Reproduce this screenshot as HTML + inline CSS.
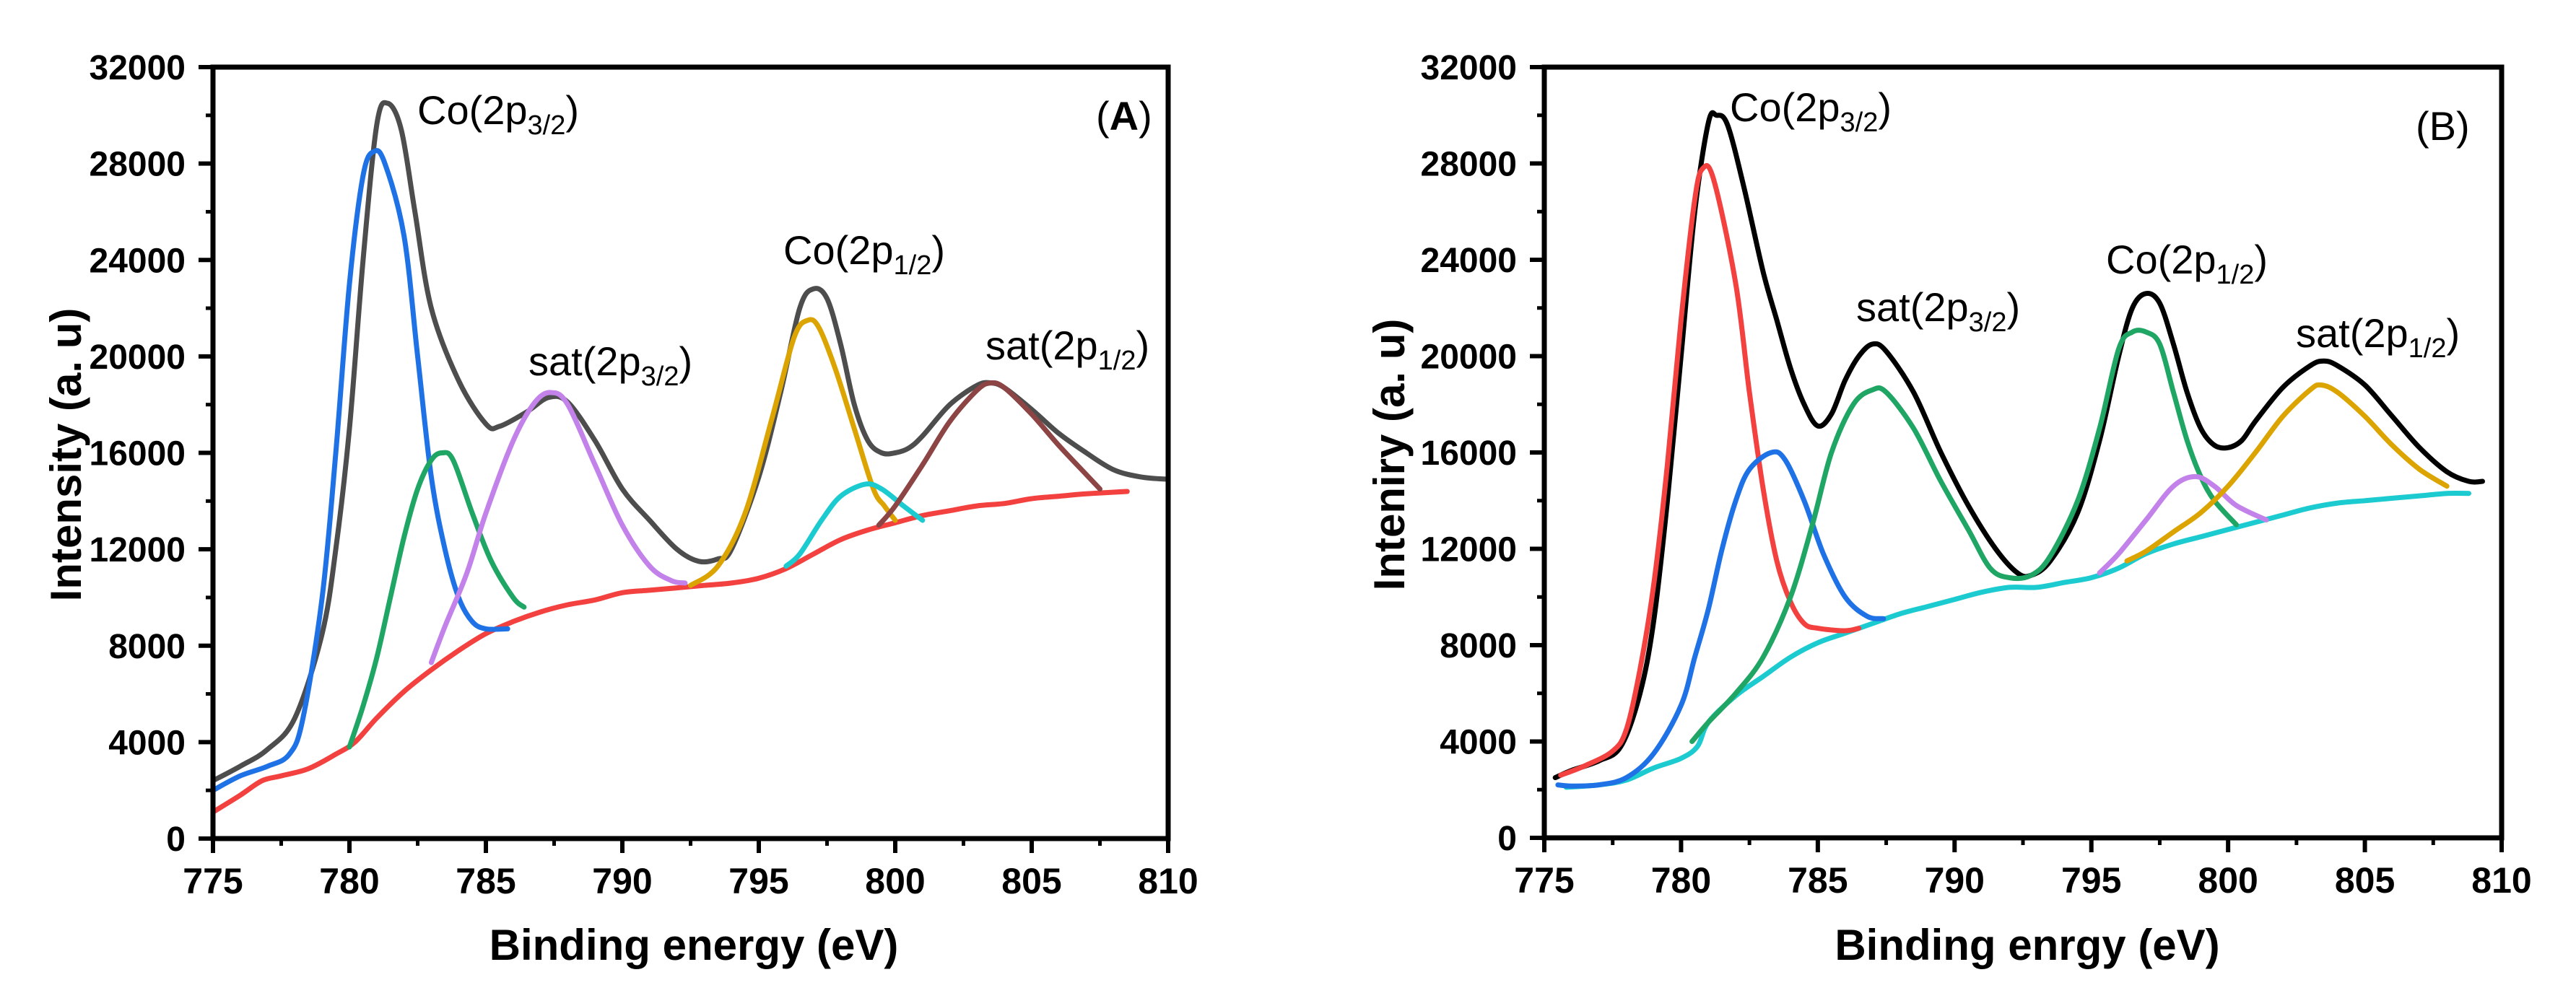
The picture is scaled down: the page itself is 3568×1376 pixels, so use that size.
<!DOCTYPE html>
<html><head><meta charset="utf-8"><style>
html,body{margin:0;padding:0;background:#fff}
svg{display:block}
text{font-family:"Liberation Sans",Arial,sans-serif}
</style></head><body>
<svg id="svg" width="3568" height="1376" viewBox="0 0 3568 1376" xmlns="http://www.w3.org/2000/svg"></svg>
<script>
// ---- data: panel A ----
const xTicks=[775,780,785,790,795,800,805,810];
const yTicks=[0,4000,8000,12000,16000,20000,24000,28000,32000];
const aEnvX=[775,776,777,778,779,779.5,780,780.5,781,781.4,781.9,782.4,783,784,785,785.5,786.5,787.3,788,789,790,791,792,792.8,793.5,794,795,795.8,796.5,797,797.5,798,798.5,799,799.5,800,800.5,801,802,803,803.5,804,805,806,807,808,809,810];
const aEnvY=[2400,3000,3700,5000,8500,12000,17000,24000,29600,30500,29400,26000,22000,19000,17200,17100,17700,18300,18100,16500,14500,13200,12000,11500,11600,12000,15000,18500,22000,22800,22400,20500,18000,16500,16000,16000,16200,16700,18000,18800,18900,18700,17800,16800,16000,15300,15000,14900];
const aBlueX=[775,776,777,777.8,778.3,779,779.5,780,780.5,780.9,781.3,782,782.5,783,783.5,784,784.5,785,785.8];
const aBlueY=[2000,2600,3000,3500,5000,10000,16000,23000,27500,28500,28000,25000,20000,15000,12000,10000,9000,8700,8700];
const aGreenX=[780,780.5,781,781.5,782,782.5,783,783.4,783.8,784.5,785.2,786,786.4];
const aGreenY=[3800,5500,7500,10000,12500,14500,15700,16000,15700,13500,11500,10000,9600];
const aPurpleX=[783,783.5,784.3,785,786,786.8,787.4,788,789,790,791,791.8,792.3];
const aPurpleY=[7300,8800,11000,13500,16500,18100,18500,18000,15500,13000,11300,10700,10600];
const aOrangeX=[792.5,793.5,794.5,795.5,796.3,796.8,797.2,797.8,798.5,799.2,799.6,800];
const aOrangeY=[10500,11300,13500,17500,20800,21500,21200,19500,17000,14500,13800,13200];
const aCyanX=[796,796.5,797.3,798,798.9,799.5,800.3,801];
const aCyanY=[11300,11800,13200,14200,14700,14500,13800,13200];
const aBrownX=[799.4,800,801,802,803,803.5,804,805,806,807,807.5];
const aBrownY=[13000,13800,15500,17300,18600,18900,18700,17600,16300,15100,14500];
const aRedX=[775,776,776.8,777.5,778.5,779.5,780.2,781,782,783,784,785,786,787,788,789,790,791,792,793,794,795,796,797,798,799,800,801,802,803,804,805,806,807,808.5];
const aRedY=[1100,1800,2400,2600,2900,3500,4000,5000,6100,7000,7800,8500,9000,9400,9700,9900,10200,10300,10400,10500,10600,10800,11200,11800,12400,12800,13100,13400,13600,13800,13900,14100,14200,14300,14400];
// ---- data: panel B ----
const bEnvX=[775.4,776,777,777.8,778.5,779,779.5,780,780.5,781,781.3,781.7,782.3,783,783.5,784,784.5,785,785.5,786,786.5,787,787.5,788.5,789.5,790.5,791.5,792.3,792.8,793.5,794.5,795.3,796,796.5,797,797.5,798,798.5,799,799.5,800,800.5,801,802,803,803.5,804,805,806,807,808,808.8,809.3];
const bEnvY=[2500,2800,3200,3800,6000,9000,14000,20000,26000,29700,30000,29600,27000,23500,21500,19500,18000,17100,17600,19000,20000,20500,20200,18500,16000,13800,12000,11000,10900,11500,13500,16500,20000,22000,22600,22200,20500,18500,17000,16300,16200,16500,17300,18700,19600,19800,19600,18800,17500,16200,15200,14800,14800];
const bRedX=[775.6,776.5,777.5,778,778.5,779,779.5,780,780.5,780.8,781.2,782,782.5,783,783.5,784,784.5,785,786,786.5];
const bRedY=[2600,3000,3600,4500,7000,10500,15500,21500,26500,27800,27300,23000,18500,14500,11500,9800,8900,8700,8600,8700];
const bBlueX=[775.5,776,777,778,779,780,780.5,781,781.5,782,782.5,783.3,783.8,784.5,785.2,786,786.8,787.4];
const bBlueY=[2200,2150,2200,2500,3500,5500,7500,9500,12000,14000,15300,16000,15700,14000,11800,10000,9200,9100];
const bGreenX=[780.4,781,782,783,784,784.8,785.5,786.3,787,787.5,788.5,789.5,790.5,791.3,792,792.8,793.5,794.5,795.3,796,796.5,797,797.5,798,798.5,799,799.5,800.3];
const bGreenY=[4000,4800,6000,7500,10000,13000,16000,18000,18600,18500,17000,14800,12800,11200,10800,10900,11700,14000,17000,20300,21000,21000,20500,18500,16500,15000,14000,13000];
const bPurpleX=[795.3,796,797,798,798.8,799.5,800.3,801.4];
const bPurpleY=[11000,11800,13200,14600,15000,14600,13800,13200];
const bOrangeX=[796.3,797,798,799,800,801,802,803,803.4,804,805,806,807,808];
const bOrangeY=[11500,11900,12700,13500,14600,16000,17500,18600,18800,18500,17500,16300,15300,14600];
const bCyanX=[775.8,777,778,779,780,780.6,781,782,783,784,785,786,787,788,789,790,791,792,793,794,795,796,797,798,799,800,801,802,803,804,805,806,807,808,808.8];
const bCyanY=[2100,2200,2400,2900,3300,3800,4800,5900,6700,7500,8100,8500,8900,9300,9600,9900,10200,10400,10400,10600,10800,11200,11800,12200,12500,12800,13100,13400,13700,13900,14000,14100,14200,14300,14300];

const NS="http://www.w3.org/2000/svg";
const svg=document.getElementById('svg');
function mk(tag,attrs,parent){const e=document.createElementNS(NS,tag);for(const k in attrs)e.setAttribute(k,attrs[k]);(parent||svg).appendChild(e);return e;}
function smooth(pts){let d="M"+pts[0][0].toFixed(1)+","+pts[0][1].toFixed(1);
 for(let i=0;i<pts.length-1;i++){const p0=pts[i-1]||pts[i],p1=pts[i],p2=pts[i+1],p3=pts[i+2]||p2;
  const c1=[p1[0]+(p2[0]-p0[0])/6,p1[1]+(p2[1]-p0[1])/6],c2=[p2[0]-(p3[0]-p1[0])/6,p2[1]-(p3[1]-p1[1])/6];
  d+="C"+c1[0].toFixed(1)+","+c1[1].toFixed(1)+" "+c2[0].toFixed(1)+","+c2[1].toFixed(1)+" "+p2[0].toFixed(1)+","+p2[1].toFixed(1);}
 return d;}

function panel(cfg){
 const g=mk('g',{});
 
 
 const L=cfg.L,R=cfg.R,T=cfg.T,B=cfg.B;
 const sx=v=>L+(v-775)/35*(R-L), sy=v=>B-v/32000*(B-T);
 cfg.series.forEach(s=>{
  const pts=s.x.map((xv,i)=>[sx(xv),sy(s.y[i])]);
  const p=mk('path',{d:smooth(pts),fill:'none',stroke:s.c,'stroke-width':7,'stroke-linejoin':'round','stroke-linecap':'round'},g);
  
  
 });
 const fr=mk('rect',{x:L,y:T,width:R-L,height:B-T,fill:'none',stroke:'#000','stroke-width':7},g);
 
 
 xTicks.forEach((v,i)=>{
  const x=sx(v);
  mk('line',{x1:x,y1:B,x2:x,y2:B+20,stroke:'#000','stroke-width':6},g);
  if(i<xTicks.length-1){const xm=sx(v+2.5);mk('line',{x1:xm,y1:B,x2:xm,y2:B+10,stroke:'#000','stroke-width':5},g);}
  const t=mk('text',{x:x,y:B+76,'text-anchor':'middle','font-size':50,'font-weight':'bold'},g);
  t.textContent=v;
  
  
 });
 yTicks.forEach((v,i)=>{
  const y=sy(v);
  mk('line',{x1:L-20,y1:y,x2:L,y2:y,stroke:'#000','stroke-width':6},g);
  if(i<yTicks.length-1){const ym=sy(v+2000);mk('line',{x1:L-10,y1:ym,x2:L,y2:ym,stroke:'#000','stroke-width':5},g);}
  const t=mk('text',{x:L-38,y:y+17,'text-anchor':'end','font-size':48,'font-weight':'bold'},g);
  t.textContent=v;
  
  
 });
 const xt=mk('text',{x:cfg.xtx,y:1330,'text-anchor':'middle','font-size':60,'font-weight':'bold'},g);
 xt.textContent=cfg.xtitle;
 
 
 const yt=mk('text',{x:0,y:0,'text-anchor':'middle','font-size':60,'font-weight':'bold',transform:'translate('+cfg.ytx+',630) rotate(-90)'},g);
 yt.textContent=cfg.ytitle;
 
 
 cfg.labels.forEach(lb=>{
  const t=mk('text',{x:lb[0],y:lb[1],'font-size':56},g);
  
  
  const a=mk('tspan',{},t);a.textContent=lb[2]+'(2p';
  const b=mk('tspan',{'font-size':38,dy:14},t);b.textContent=lb[3];
  const c=mk('tspan',{dy:-14},t);c.textContent=')';
 });
 const pl=mk('text',{x:cfg.tag[0],y:cfg.tag[1],'font-size':56},g);
 
 
 if(cfg.tagBold){const a=mk('tspan',{},pl);a.textContent='(';const b=mk('tspan',{'font-weight':'bold'},pl);b.textContent='A';const c=mk('tspan',{},pl);c.textContent=')';}
 else pl.textContent='(B)';
}

panel({name:'panel-a',L:295,R:1618,T:93,B:1162,xtx:961,ytx:112,xtitle:'Binding energy (eV)',ytitle:'Intensity (a. u)',
 tag:[1518,180],tagBold:true,
 labels:[[578,172,'Co','3/2'],[1085,366,'Co','1/2'],[732,520,'sat','3/2'],[1365,498,'sat','1/2']],
 series:[
  {n:'baseline-red',x:aRedX,y:aRedY,c:'#f2413f'},
  {n:'envelope-gray',x:aEnvX,y:aEnvY,c:'#4d4d4d'},
  {n:'fit-co-2p32-blue',x:aBlueX,y:aBlueY,c:'#1f72e6'},
  {n:'fit-green',x:aGreenX,y:aGreenY,c:'#1fa564'},
  {n:'fit-sat-2p32-purple',x:aPurpleX,y:aPurpleY,c:'#c382ea'},
  {n:'fit-co-2p12-orange',x:aOrangeX,y:aOrangeY,c:'#dba400'},
  {n:'fit-cyan',x:aCyanX,y:aCyanY,c:'#1ccbd0'},
  {n:'fit-sat-2p12-brown',x:aBrownX,y:aBrownY,c:'#8c4444'}
 ]});
panel({name:'panel-b',L:2139,R:3465,T:93,B:1161,xtx:2808,ytx:1945,xtitle:'Binding enrgy (eV)',ytitle:'Inteniry (a. u)',
 tag:[3346,194],tagBold:false,
 labels:[[2396,168,'Co','3/2'],[2571,445,'sat','3/2'],[2917,379,'Co','1/2'],[3180,481,'sat','1/2']],
 series:[
  {n:'baseline-cyan',x:bCyanX,y:bCyanY,c:'#1ccbd0'},
  {n:'envelope-black',x:bEnvX,y:bEnvY,c:'#000'},
  {n:'fit-co-2p32-red',x:bRedX,y:bRedY,c:'#f2413f'},
  {n:'fit-blue',x:bBlueX,y:bBlueY,c:'#1f72e6'},
  {n:'fit-green',x:bGreenX,y:bGreenY,c:'#1fa564'},
  {n:'fit-purple',x:bPurpleX,y:bPurpleY,c:'#c382ea'},
  {n:'fit-sat-2p12-orange',x:bOrangeX,y:bOrangeY,c:'#dba400'}
 ]});
</script>
</body></html>
